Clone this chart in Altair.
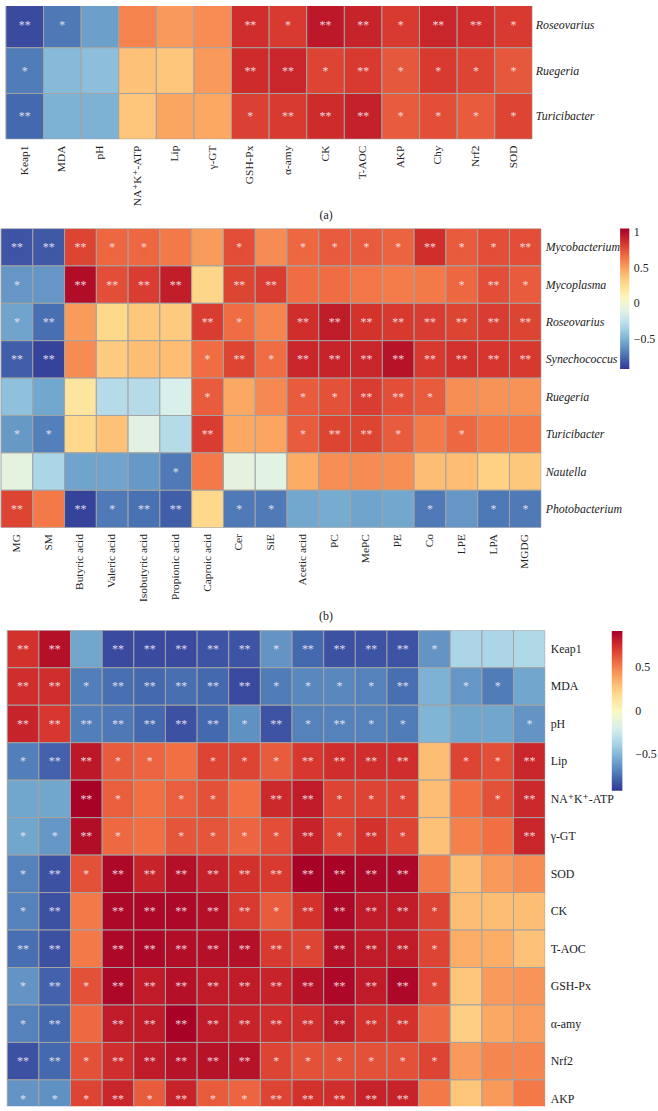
import altair as alt
import pandas as pd

SERIF = "Liberation Serif, Times New Roman, DejaVu Serif, serif"

# ---------------- Panel (a) ----------------
a_rows = ["Roseovarius", "Ruegeria", "Turicibacter"]
a_cols = ["Keap1", "MDA", "pH", "NA\u207aK\u207a-ATP", "Lip", "\u03b3-GT", "GSH-Px",
          "\u03b1-amy", "CK", "T-AOC", "AKP", "Chy", "Nrf2", "SOD"]
a_vals = [
    [-0.86, -0.72, -0.59, 0.49, 0.42, 0.46, 0.75, 0.71, 0.83, 0.79, 0.71, 0.78, 0.75, 0.71],
    [-0.71, -0.49, -0.47, 0.29, 0.27, 0.42, 0.76, 0.78, 0.68, 0.71, 0.62, 0.71, 0.68, 0.62],
    [-0.77, -0.52, -0.52, 0.27, 0.39, 0.38, 0.69, 0.71, 0.76, 0.80, 0.61, 0.65, 0.61, 0.68],
]
a_sig = [
    ["**", "*", "", "", "", "", "**", "*", "**", "**", "*", "**", "**", "*"],
    ["*", "", "", "", "", "", "**", "**", "*", "**", "*", "*", "*", "*"],
    ["**", "", "", "", "", "", "*", "**", "**", "**", "*", "*", "*", "*"],
]

# ---------------- Panel (b) ----------------
b_rows = ["Mycobacterium", "Mycoplasma", "Roseovarius", "Synechococcus",
          "Ruegeria", "Turicibacter", "Nautella", "Photobacterium"]
b_cols = ["MG", "SM", "Butyric acid", "Valeric acid", "Isobutyric acid", "Propionic acid",
          "Caproic acid", "Cer", "SiE", "Acetic acid", "PC", "MePC", "PE", "Co", "LPE", "LPA", "MGDG"]
b_vals = [
    [-0.82, -0.81, 0.79, 0.68, 0.68, 0.62, 0.51, 0.76, 0.56, 0.68, 0.72, 0.72, 0.69, 0.87, 0.72, 0.76, 0.76],
    [-0.60, -0.60, 1.00, 0.76, 0.82, 0.93, 0.29, 0.79, 0.82, 0.66, 0.66, 0.63, 0.61, 0.62, 0.68, 0.76, 0.72],
    [-0.55, -0.74, 0.51, 0.28, 0.35, 0.34, 0.82, 0.66, 0.58, 0.87, 0.94, 0.85, 0.83, 0.82, 0.79, 0.82, 0.79],
    [-0.79, -0.88, 0.56, 0.34, 0.39, 0.39, 0.66, 0.79, 0.66, 0.90, 0.91, 0.90, 0.98, 0.83, 0.86, 0.84, 0.83],
    [-0.43, -0.54, 0.20, -0.29, -0.29, -0.15, 0.72, 0.47, 0.57, 0.72, 0.75, 0.82, 0.76, 0.72, 0.55, 0.54, 0.54],
    [-0.59, -0.68, 0.28, 0.37, -0.10, -0.29, 0.82, 0.47, 0.48, 0.72, 0.79, 0.79, 0.72, 0.62, 0.68, 0.62, 0.62],
    [-0.07, -0.33, -0.55, -0.55, -0.59, -0.70, 0.62, -0.07, -0.09, 0.46, 0.55, 0.56, 0.55, 0.39, 0.39, 0.31, 0.35],
    [0.79, 0.62, -0.88, -0.70, -0.73, -0.79, 0.28, -0.70, -0.70, -0.54, -0.52, -0.55, -0.54, -0.70, -0.60, -0.71, -0.70],
]
b_sig = [
    ["**", "**", "**", "*", "*", "", "", "*", "", "*", "*", "*", "*", "**", "*", "*", "**"],
    ["*", "", "**", "**", "**", "**", "", "**", "**", "", "", "", "", "", "*", "**", "*"],
    ["*", "**", "", "", "", "", "**", "*", "", "**", "**", "**", "**", "**", "**", "**", "**"],
    ["**", "**", "", "", "", "", "*", "**", "*", "**", "**", "**", "**", "**", "**", "**", "**"],
    ["", "", "", "", "", "", "*", "", "", "*", "*", "**", "**", "*", "", "", ""],
    ["*", "*", "", "", "", "", "**", "", "", "*", "**", "**", "*", "", "*", "", ""],
    ["", "", "", "", "", "*", "", "", "", "", "", "", "", "", "", "", ""],
    ["**", "", "**", "*", "**", "**", "", "*", "*", "", "", "", "", "*", "", "*", "*"],
]

# ---------------- Panel (c) ----------------
c_rows = ["Keap1", "MDA", "pH", "Lip", "NA\u207aK\u207a-ATP", "\u03b3-GT", "SOD", "CK",
          "T-AOC", "GSH-Px", "\u03b1-amy", "Nrf2", "AKP"]
c_cols = b_cols
c_vals = [
    [0.74, 0.86, -0.57, -0.86, -0.86, -0.86, -0.83, -0.83, -0.63, -0.77, -0.84, -0.83, -0.83, -0.63, -0.37, -0.37, -0.35],
    [0.75, 0.75, -0.70, -0.75, -0.77, -0.75, -0.77, -0.86, -0.71, -0.67, -0.67, -0.69, -0.75, -0.52, -0.62, -0.71, -0.57],
    [0.79, 0.72, -0.70, -0.72, -0.77, -0.84, -0.77, -0.64, -0.83, -0.69, -0.69, -0.69, -0.71, -0.51, -0.57, -0.57, -0.63],
    [-0.70, -0.79, 0.83, 0.61, 0.58, 0.55, 0.68, 0.68, 0.61, 0.72, 0.75, 0.75, 0.75, 0.30, 0.68, 0.65, 0.78],
    [-0.57, -0.57, 0.91, 0.60, 0.55, 0.60, 0.64, 0.55, 0.77, 0.82, 0.68, 0.68, 0.68, 0.30, 0.55, 0.64, 0.77],
    [-0.57, -0.62, 0.87, 0.57, 0.55, 0.63, 0.63, 0.58, 0.65, 0.79, 0.68, 0.74, 0.68, 0.29, 0.50, 0.55, 0.78],
    [-0.69, -0.84, 0.64, 0.89, 0.79, 0.86, 0.80, 0.74, 0.71, 0.91, 0.91, 0.89, 0.89, 0.52, 0.30, 0.42, 0.46],
    [-0.69, -0.84, 0.52, 0.89, 0.89, 0.89, 0.86, 0.71, 0.61, 0.74, 0.89, 0.82, 0.82, 0.68, 0.30, 0.30, 0.30],
    [-0.75, -0.84, 0.52, 0.89, 0.89, 0.87, 0.86, 0.86, 0.71, 0.68, 0.86, 0.82, 0.82, 0.68, 0.36, 0.36, 0.29],
    [-0.63, -0.79, 0.64, 0.89, 0.82, 0.86, 0.82, 0.82, 0.79, 0.85, 0.89, 0.82, 0.89, 0.68, 0.27, 0.42, 0.44],
    [-0.69, -0.77, 0.57, 0.82, 0.82, 0.91, 0.82, 0.79, 0.75, 0.75, 0.82, 0.74, 0.74, 0.57, 0.24, 0.38, 0.41],
    [-0.84, -0.77, 0.64, 0.75, 0.82, 0.85, 0.85, 0.85, 0.68, 0.64, 0.64, 0.64, 0.64, 0.68, 0.42, 0.48, 0.48],
    [-0.63, -0.64, 0.68, 0.78, 0.61, 0.79, 0.61, 0.58, 0.68, 0.74, 0.75, 0.79, 0.79, 0.52, 0.27, 0.42, 0.52],
]
c_sig = [
    ["**", "**", "", "**", "**", "**", "**", "**", "*", "**", "**", "**", "**", "*", "", "", ""],
    ["**", "**", "*", "**", "**", "**", "**", "**", "*", "*", "*", "*", "**", "", "*", "*", ""],
    ["**", "**", "**", "**", "**", "**", "**", "*", "**", "*", "**", "*", "*", "", "", "", "*"],
    ["*", "**", "**", "*", "*", "", "*", "*", "*", "**", "**", "**", "**", "", "*", "*", "**"],
    ["", "", "**", "*", "", "*", "*", "", "**", "**", "*", "*", "*", "", "", "*", "**"],
    ["*", "*", "**", "*", "", "*", "*", "*", "*", "**", "*", "**", "*", "", "", "", "**"],
    ["*", "**", "*", "**", "**", "**", "**", "**", "**", "**", "**", "**", "**", "", "", "", ""],
    ["*", "**", "", "**", "**", "**", "**", "**", "*", "**", "**", "**", "**", "*", "", "", ""],
    ["**", "**", "", "**", "**", "**", "**", "**", "**", "*", "**", "**", "**", "*", "", "", ""],
    ["*", "**", "*", "**", "**", "**", "**", "**", "**", "**", "**", "**", "**", "*", "", "", ""],
    ["*", "**", "", "**", "**", "**", "**", "**", "**", "**", "**", "**", "**", "", "", "", ""],
    ["**", "**", "*", "**", "**", "**", "**", "**", "*", "*", "*", "*", "*", "*", "", "", ""],
    ["*", "*", "*", "**", "*", "**", "*", "*", "**", "**", "**", "**", "**", "", "", "", ""],
]


def long_df(rows, cols, vals, sig):
    recs = []
    for i, r in enumerate(rows):
        for j, c in enumerate(cols):
            recs.append({"row": r, "col": c, "r": vals[i][j], "sig": sig[i][j]})
    return pd.DataFrame(recs)


def panel(rows, cols, vals, sig, width, height, xr, yr, domain, legend, xaxis, italic, ypad):
    df = long_df(rows, cols, vals, sig)
    x = alt.X("col:N", scale=alt.Scale(domain=cols, range=xr, paddingInner=0, paddingOuter=0), axis=xaxis)
    y = alt.Y("row:N", scale=alt.Scale(domain=rows, range=yr, paddingInner=0, paddingOuter=0),
              axis=alt.Axis(orient="right", title=None, domain=False, ticks=False, grid=False,
                            labelPadding=ypad, labelFont=SERIF, labelFontSize=12,
                            labelFontStyle="italic" if italic else "normal", labelColor="#222222"))
    color = alt.Color("r:Q", scale=alt.Scale(scheme="redyellowblue", reverse=True, domain=domain),
                      legend=legend)
    rect = alt.Chart(df).mark_rect(stroke="#a3a3a3", strokeWidth=1, clip=True).encode(
        x=x, y=y, color=color)
    stars = alt.Chart(df).mark_text(font=SERIF, fontSize=12, color="#f6eef6", opacity=0.85,
                                    clip=True).encode(x=x, y=y, text="sig:N")
    return alt.layer(rect, stars).properties(width=width, height=height)


def xaxis(title, title_y):
    return alt.Axis(orient="bottom", labelAngle=-90, domain=False, ticks=False, grid=False,
                    labelPadding=6, labelFont=SERIF, labelFontSize=11.5, labelColor="#222222",
                    title=title, titleX=329, titleY=title_y, titleBaseline="middle",
                    titleFont=SERIF, titleFontSize=12, titleFontWeight="normal", titleColor="#222222")


legend_b = alt.Legend(orient="none", legendX=626.7, legendY=0, direction="vertical",
                      gradientLength=142, gradientThickness=9.3, title=None,
                      values=[1, 0.5, 0, -0.5], format="~g", labelFont=SERIF, labelFontSize=12,
                      labelOffset=4.5, labelColor="#222222", gradientStrokeWidth=0)
legend_c = alt.Legend(orient="none", legendX=618.3, legendY=0.7, direction="vertical",
                      gradientLength=161.6, gradientThickness=10.7, title=None,
                      values=[0.5, 0, -0.5], format="~g", labelFont=SERIF, labelFontSize=12,
                      labelOffset=13, labelColor="#222222", gradientStrokeWidth=0)

pa = panel(a_rows, a_cols, a_vals, a_sig, 538, 134.7, [6, 538], [-3.9, 134.7],
           [-0.92, 0.92], None, xaxis("(a)", 76), True, 3)
pb = panel(b_rows, b_cols, b_vals, b_sig, 547, 302.3, [1, 547], [0, 302.3],
           [-0.92, 1.05], legend_b, xaxis("(b)", 89), True, 4)
pc = panel(c_rows, c_cols, c_vals, c_sig, 551, 481, [7.3, 551], [0, 492.3],
           [-0.92, 0.92], legend_c, None, False, 5)

chart = alt.vconcat(pa, pb, pc, spacing=8).resolve_scale(
    color="independent", x="independent", y="independent"
).properties(padding=0, background="white").configure_view(stroke=None)

chart.save("out.html", embed_options={"renderer": "svg", "actions": False})
